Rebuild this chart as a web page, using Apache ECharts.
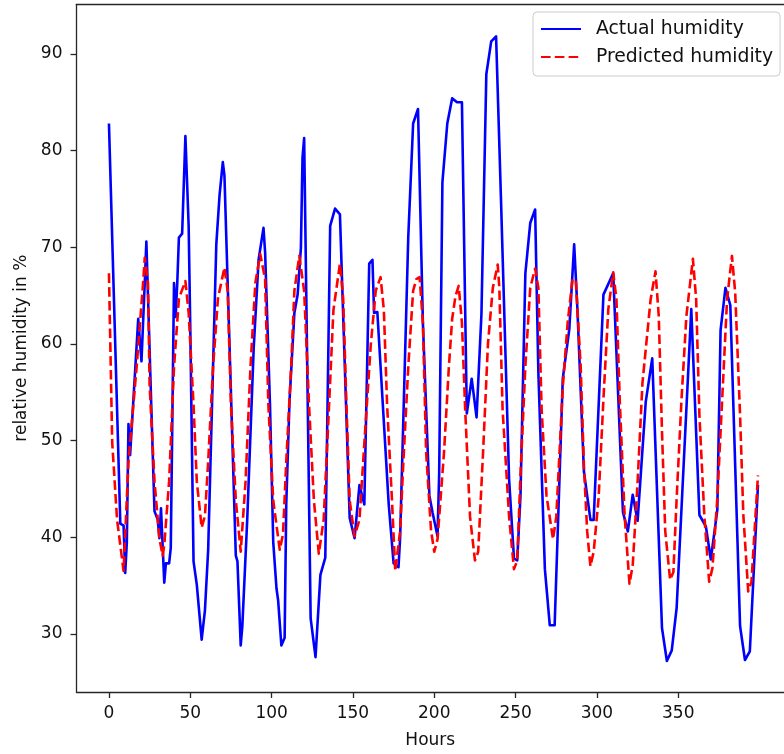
<!DOCTYPE html>
<html><head><meta charset="utf-8">
<script src="https://cdn.jsdelivr.net/npm/echarts@6/dist/echarts.min.js"></script>
<style>html,body{margin:0;padding:0;background:#fff}#c{width:784px;height:754px}</style>
</head><body><div id="c"></div>
<script>
const seriesNames = ['Actual humidity', 'Predicted humidity'];
const xAxisName = 'Hours';
const yAxisName = 'relative humidity in %';
const xTicks = [0, 50, 100, 150, 200, 250, 300, 350];
const yTicks = [30, 40, 50, 60, 70, 80, 90];

const actualHours = [
  0,7,9,10,11,12,13,18,20,22,
  23,26,28,30,31,32,34,35,37,38,
  39,40,41,42,43,45,47,49,50,52,
  54,57,58,59,61,66,68,70,71,78,
  79,81,82,85,89,92,95,96,99,101,
  103,104,106,108,109,111,112,114,116,118,
  119,120,124,127,130,133,136,139,142,148,
  151,154,157,160,162,163,165,166,172,175,
  178,179,184,187,190,193,197,199,202,203,
  205,208,211,214,217,220,223,226,229,232,
  235,238,241,246,249,251,253,256,259,262,
  264,268,271,274,279,283,286,288,292,296,
  298,304,310,316,319,322,325,330,334,340,
  343,346,349,358,363,367,370,374,376,379,
  382,388,391,394,399
];
const actualValues = [
  82.8,41.4,41.2,36.3,39.5,51.7,48.5,62.6,58.2,66.3,
  70.6,53.7,42.7,41.8,39.9,43.0,35.3,37.3,37.3,38.9,
  38.9,66.3,62.8,66.3,71.0,71.4,81.5,72.2,61.6,37.5,
  35.1,29.4,29.6,32.4,38.7,70.3,75.4,78.8,77.4,38.1,
  37.5,28.8,30.8,41.8,59.6,68.7,72.0,69.5,53.7,39.5,
  34.7,33.5,28.8,29.6,43.4,54.1,54.1,63.2,65.1,69.9,
  79.3,81.3,31.6,27.6,36.1,37.9,72.2,74.0,73.4,42.0,
  39.9,45.4,43.4,68.3,68.7,63.2,63.3,63.5,43.4,37.3,
  36.9,39.9,71.0,82.8,84.3,62.2,44.3,42.5,40.1,46.5,
  76.7,82.8,85.4,85.0,85.0,52.8,56.4,52.4,63.1,87.9,
  91.3,91.8,75.0,46.0,37.8,37.6,44.3,67.3,72.5,73.9,
  57.0,36.7,30.9,30.9,56.4,61.5,70.3,63.6,46.8,41.8,
  41.8,65.1,67.3,42.6,40.6,44.4,41.7,54.0,58.5,30.6,
  27.2,28.3,32.7,63.6,42.3,41.1,37.7,42.8,61.4,65.8,
  64.0,30.8,27.3,28.2,45.4
];

const predictedHours = [
  0,2,5,9,12,17,21,22,24,25,
  28,31,33,34,37,40,43,47,49,52,
  54,57,59,61,64,67,71,73,75,78,
  81,84,87,90,93,96,98,101,105,107,
  109,112,114,117,120,123,126,129,132,135,
  138,142,144,146,148,151,154,157,161,164,
  167,169,171,174,176,179,181,184,187,189,
  191,193,195,198,200,202,206,209,211,213,
  215,217,219,222,225,227,230,233,236,239,
  240,242,246,249,251,253,256,259,262,264,
  266,269,273,275,279,282,285,287,290,292,
  294,296,298,301,304,307,310,312,314,317,
  320,322,325,328,333,336,338,340,342,345,
  347,349,352,355,359,361,363,366,369,371,
  374,377,380,383,385,388,390,393,395,399
];
const predictedValues = [
  67.3,49.8,41.8,36.5,47.8,57.6,66.3,68.9,66.3,55.7,
  45.8,39.9,38.1,39.2,45.8,57.6,64.7,66.5,63.2,53.7,
  45.8,41.0,42.2,47.8,57.6,64.7,67.9,65.5,53.7,43.8,
  38.5,45.8,57.6,66.3,69.3,66.7,53.7,43.8,38.7,40.3,
  47.8,57.6,65.5,69.1,65.5,53.7,43.8,38.3,41.8,52.5,
  63.5,68.3,64.7,53.7,43.8,40.1,41.8,49.7,60.0,65.5,
  66.9,63.5,53.7,43.8,36.5,40.6,47.8,57.6,65.5,66.7,
  66.9,62.2,48.8,40.7,38.5,39.8,48.8,57.7,62.6,64.9,
  66.0,62.2,53.2,42.1,37.6,38.5,48.8,60.0,65.8,68.2,
  65.8,53.2,42.1,36.7,37.6,46.5,57.7,65.8,67.8,65.8,
  53.2,44.3,39.8,42.1,55.5,62.2,66.7,66.6,57.7,47.4,
  40.6,37.0,38.5,44.0,54.3,63.6,67.4,64.6,54.3,42.3,
  35.2,37.1,45.7,56.0,64.6,67.5,62.9,50.9,40.6,35.6,
  36.4,44.0,54.3,62.9,68.8,64.6,52.6,42.3,35.4,36.8,
  44.0,54.3,64.6,69.1,65.3,52.6,42.3,34.4,35.4,46.4
];

const FONT = 'DejaVu Sans';
const TXT = '#111111';
const SPINE = '#262626';
// visible part of the x range (the right spine lies outside the picture)
const X_MIN = -19.95;
const X_MAX_VISIBLE = 415.0;

const actualData = actualHours.map((h, i) => [h, actualValues[i]]);
const predictedData = predictedHours.map((h, i) => [h, predictedValues[i]]);

const chart = echarts.init(document.getElementById('c'), null, {renderer: 'canvas'});
chart.setOption({
  animation: false,
  backgroundColor: '#ffffff',
  grid: {
    left: 76.5, top: 4.3, right: 0, bottom: 60,
    show: false, containLabel: false
  },
  xAxis: [{
    type: 'value', min: X_MIN, max: X_MAX_VISIBLE, position: 'bottom',
    name: xAxisName, nameLocation: 'middle', nameGap: 40,
    nameTextStyle: {fontFamily: FONT, fontSize: 17, color: TXT},
    axisLine: {show: true, onZero: false, lineStyle: {color: SPINE, width: 1.3}},
    splitLine: {show: false},
    axisTick: {show: true, inside: false, length: 6, customValues: xTicks,
      lineStyle: {color: SPINE, width: 1.3}},
    axisLabel: {customValues: xTicks, margin: 13, fontFamily: FONT, fontSize: 17, color: TXT}
  }, {
    type: 'value', min: X_MIN, max: X_MAX_VISIBLE, position: 'top',
    axisLine: {show: true, onZero: false, lineStyle: {color: SPINE, width: 1.3}},
    splitLine: {show: false}, axisTick: {show: false}, axisLabel: {show: false}
  }],
  yAxis: {
    type: 'value', min: 23.99, max: 95.13, position: 'left',
    name: yAxisName, nameLocation: 'middle', nameRotate: 90, nameGap: 46,
    nameTextStyle: {fontFamily: FONT, fontSize: 17, color: TXT},
    axisLine: {show: true, onZero: false, lineStyle: {color: SPINE, width: 1.3}},
    splitLine: {show: false},
    axisTick: {show: true, inside: false, length: 6, customValues: yTicks,
      lineStyle: {color: SPINE, width: 1.3}},
    axisLabel: {customValues: yTicks, margin: 14, fontFamily: FONT, fontSize: 17, color: TXT}
  },
  legend: {
    orient: 'vertical', left: 533, top: 12,
    itemWidth: 40, itemHeight: 14, itemGap: 6,
    padding: [6, 7, 8, 7],
    itemStyle: {opacity: 0},
    backgroundColor: 'rgba(255,255,255,0.8)', borderColor: '#cccccc', borderWidth: 1, borderRadius: 4,
    textStyle: {fontFamily: FONT, fontSize: 18.8, color: TXT, padding: [0, 0, 0, 10], lineHeight: 22},
    data: seriesNames
  },
  series: [
    {
      type: 'line', name: seriesNames[0], data: actualData, xAxisIndex: 0,
      symbol: 'none', showSymbol: false, clip: true,
      lineStyle: {color: '#0000ff', width: 2.6, join: 'round'},
      itemStyle: {color: '#0000ff'}
    },
    {
      type: 'line', name: seriesNames[1], data: predictedData, xAxisIndex: 0,
      symbol: 'none', showSymbol: false, clip: true,
      lineStyle: {color: '#ff0000', width: 2.6, type: [9.6, 4.2], join: 'round'},
      itemStyle: {color: '#ff0000'}
    }
  ]
});
</script>
</body></html>
